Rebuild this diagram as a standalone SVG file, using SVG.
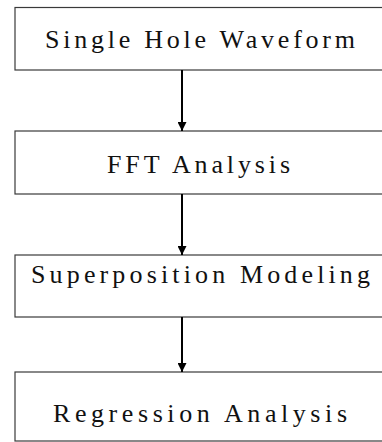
<svg xmlns="http://www.w3.org/2000/svg" width="382" height="442" viewBox="0 0 382 442">
<style>
.box{fill:#fff;stroke:#3a3a3a;stroke-width:1.2}
.lbl{font-family:"Liberation Serif","DejaVu Serif",serif;font-size:26px;fill:#111}
.conn{stroke:#000;stroke-width:2;fill:none}
</style>
<defs>
<marker id="ah" viewBox="0 0 10 10" refX="10" refY="5" markerWidth="5" markerHeight="4.5" orient="auto" markerUnits="strokeWidth">
<path d="M0,0 L10,5 L0,10 z" fill="#000"/>
</marker>
</defs>
<rect width="382" height="442" fill="#fff"/>
<g id="node1">
<rect class="box" x="15" y="7.5" width="380" height="62.5"/>
<text class="lbl" x="45" y="48" textLength="310" lengthAdjust="spacing">Single Hole Waveform</text>
</g>
<g id="node2">
<rect class="box" x="15" y="131" width="380" height="63"/>
<text class="lbl" x="107" y="173" textLength="183" lengthAdjust="spacing">FFT Analysis</text>
</g>
<g id="node3">
<rect class="box" x="15" y="255" width="380" height="62"/>
<text class="lbl" x="31" y="283" textLength="339" lengthAdjust="spacing">Superposition Modeling</text>
</g>
<g id="node4">
<rect class="box" x="15" y="372" width="380" height="69"/>
<text class="lbl" x="53" y="422" textLength="294" lengthAdjust="spacing">Regression Analysis</text>
</g>
<g id="connectors">
<line class="conn" x1="182" y1="70" x2="182" y2="131" marker-end="url(#ah)"/>
<line class="conn" x1="182" y1="194" x2="182" y2="255" marker-end="url(#ah)"/>
<line class="conn" x1="182" y1="317" x2="182" y2="372" marker-end="url(#ah)"/>
</g>
</svg>
